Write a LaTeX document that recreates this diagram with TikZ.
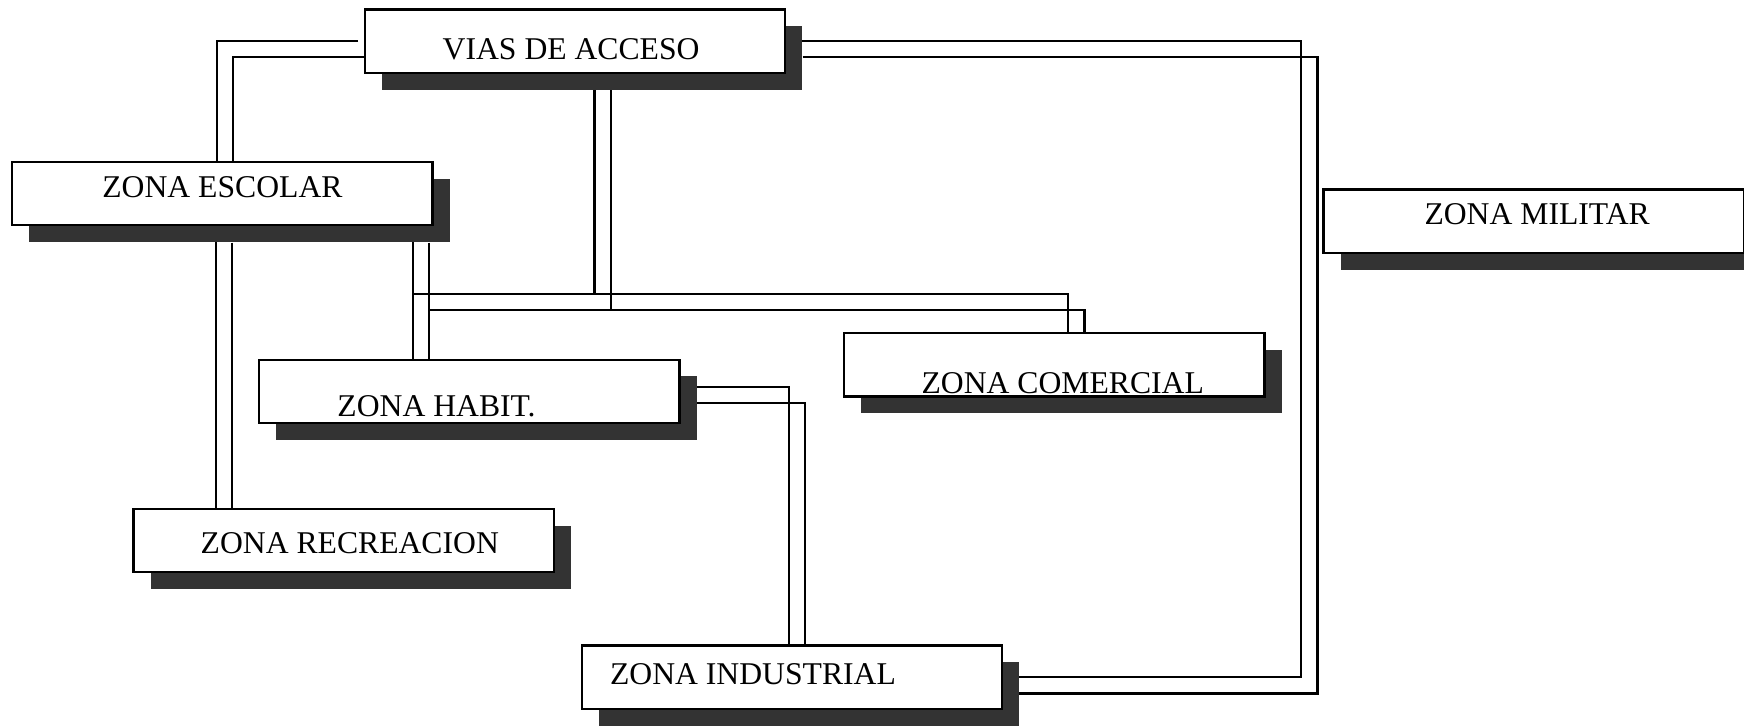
\documentclass[tikz,border=0pt]{standalone}
\usepackage{fontspec}
\setmainfont{Liberation Serif}
\usetikzlibrary{
    backgrounds,
    shadows
}

\tikzset{
    zone/.style={draw, line width=0.6pt, fill=white, inner sep=0pt,
        minimum width=3.78cm, minimum height=0.57cm,
        drop shadow={shadow xshift=1.55mm, shadow yshift=-1.5mm, fill=black!80, opacity=1}},
    tag/.style={inner sep=0pt, font=\fontsize{8.1}{10}\selectfont},
    wire/.style={line width=0.55pt},
    echo/.style={wire, transform canvas={shift={(1.45mm,-1.45mm)}}}
}

\begin{document}
\begin{tikzpicture}
    \useasboundingbox (0,0) rectangle (15.68,6.52);
    % zonas
    \node[zone] (vias) at (5.17,6.15) {};
    \node[zone] (escolar) at (2.00,4.78) {};
    \node[zone] (militar) at (13.79,4.53) {};
    \node[zone] (comercial) at (9.48,3.24) {};
    \node[zone] (habit) at (4.22,3.00) {};
    \node[zone] (recreacion) at (3.09,1.66) {};
    \node[zone] (industrial) at (7.12,0.43) {};
    \node[tag] (tvias) at ([shift={(-0.035,-0.07)}]vias) {VIAS DE ACCESO};
    \node[tag] (tescolar) at ([shift={(0,0.06)}]escolar) {ZONA ESCOLAR};
    \node[tag] (tmilitar) at ([shift={(0.03,0.065)}]militar) {ZONA MILITAR};
    \node[tag] (tcomercial) at ([shift={(0.075,-0.165)}]comercial) {ZONA COMERCIAL};
    \node[tag] (thabit) at ([shift={(-0.295,-0.13)}]habit) {ZONA HABIT.};
    \node[tag] (trecreacion) at ([shift={(0.055,-0.025)}]recreacion) {ZONA RECREACION};
    \node[tag] (tindustrial) at ([shift={(-0.35,0.03)}]industrial) {ZONA INDUSTRIAL};
    \coordinate (hub) at (3.71,3.88);
    \coordinate (bend) at (11.70,0);
    % conexiones (linea y su sombra)
    \begin{scope}[on background layer]
    \foreach \s in {wire,echo} {
        \draw[\s] ([xshift=-0.5mm]vias.west) -| ([xshift=-0.5mm]escolar.north);
        \draw[\s] ([xshift=-0.6mm]escolar.south) -- ([xshift=-0.6mm]escolar.south |- recreacion.north);
        \draw[\s] (hub |- escolar.south) -- (hub |- habit.north);
        \draw[\s] (hub) -| ([xshift=1.25mm]comercial.north);
        \draw[\s] ([xshift=1.75mm]vias.south) -- ([xshift=1.75mm]vias.south |- hub);
        \draw[\s] ([yshift=0.4mm]habit.east) -| ([xshift=-0.3mm]industrial.north);
        \draw[\s] (vias.east) -| (bend |- industrial.east) -- (industrial.east);
    }
    \end{scope}
\end{tikzpicture}
\end{document}
